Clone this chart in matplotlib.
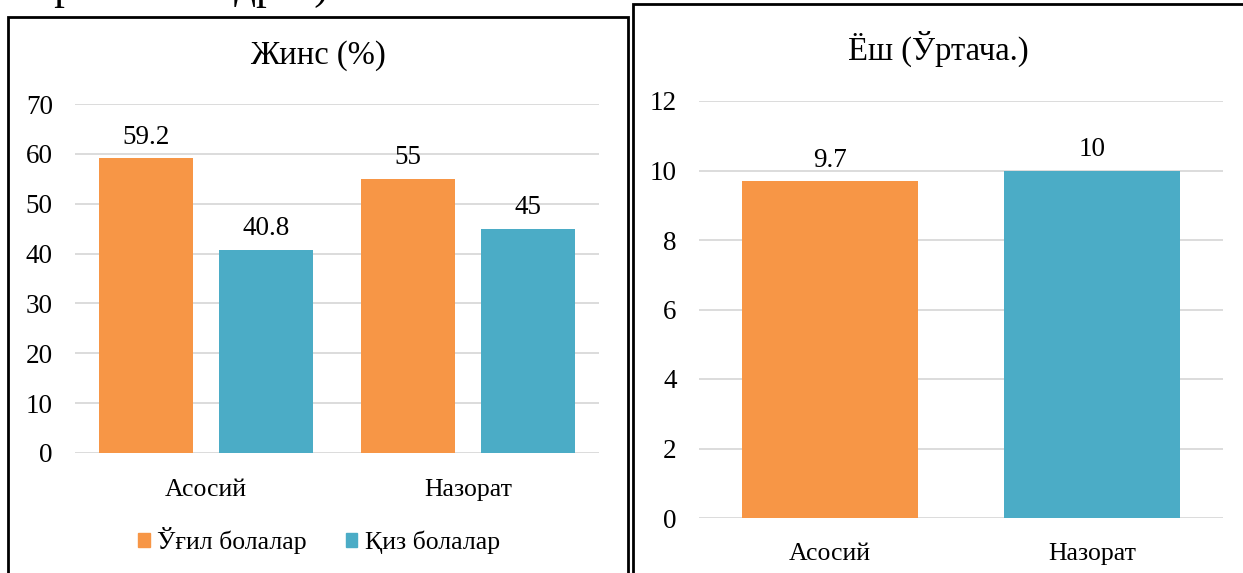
import matplotlib
matplotlib.use("Agg")
import matplotlib.pyplot as plt
import numpy as np
from matplotlib.patches import Rectangle, Patch

plt.rcParams["font.family"] = ["Liberation Serif", "DejaVu Serif"]

# data
groups = ["Асосий", "Назорат"]
boys_pct = [59.2, 55]
girls_pct = [40.8, 45]
series_names = ["Ўғил болалар", "Қиз болалар"]
age_mean = [9.7, 10]

ORANGE = "#F79646"
BLUE = "#4BACC6"
GRID = "#D9D9D9"
FS_NUM = 19.5
FS_CAT = 18.5
FS_TITLE = 23.5

W, H = 1243, 573
fig = plt.figure(figsize=(W / 100, H / 100), dpi=100)


def fx(px):
    return px / W


def fy(py):
    return 1 - py / H


def style_axes(ax, xpad):
    for s in ax.spines.values():
        s.set_visible(False)
    ax.yaxis.grid(True, color=GRID, linewidth=1.3)
    ax.set_axisbelow(True)
    ax.tick_params(axis="both", length=0)
    ax.tick_params(axis="y", pad=16, labelsize=FS_NUM)
    ax.tick_params(axis="x", pad=xpad, labelsize=FS_CAT)


# panel frames
fig.patches.append(Rectangle((fx(8), fy(590)), fx(620), (590 - 17) / H,
                             transform=fig.transFigure, fill=False, ec="black", lw=2))
fig.patches.append(Rectangle((fx(633), fy(590)), fx(620), (590 - 4) / H,
                             transform=fig.transFigure, fill=False, ec="black", lw=2))

# document text above the charts, cut by the top edge
fig.text(fx(-2), fy(-1), "широкий квадрат).", fontsize=31, va="baseline", ha="left")

# left chart: gender
ax1 = fig.add_axes([fx(75), fy(453), fx(524), (453 - 104) / H])
x = np.arange(len(groups))
bw = 0.355
off = 0.229
b1 = ax1.bar(x - off, boys_pct, bw, color=ORANGE, label=series_names[0])
b2 = ax1.bar(x + off, girls_pct, bw, color=BLUE, label=series_names[1])
for bars in (b1, b2):
    for r in bars:
        v = r.get_height()
        ax1.annotate(f"{v:g}", (r.get_x() + r.get_width() / 2, v),
                     xytext=(0, 6), textcoords="offset points",
                     ha="center", va="bottom", fontsize=FS_NUM)
ax1.set_xlim(-0.5, 1.5)
ax1.set_ylim(0, 70)
ax1.set_yticks(range(0, 71, 10))
ax1.set_xticks(x)
ax1.set_xticklabels(groups)
style_axes(ax1, 19)
fig.text(fx(318), fy(56), "Жинс (%)", fontsize=FS_TITLE, ha="center", va="center")
handles = [Patch(color=ORANGE), Patch(color=BLUE)]
fig.legend(handles, series_names, loc="center", bbox_to_anchor=(fx(319), fy(541)),
           ncol=2, frameon=False, fontsize=18.5, handlelength=0.45, handleheight=0.45,
           handletextpad=0.3, columnspacing=1.5)

# right chart: age
ax2 = fig.add_axes([fx(699), fy(518), fx(524), (518 - 101) / H])
bars = ax2.bar(x, age_mean, 0.668, color=[ORANGE, BLUE])
for r in bars:
    v = r.get_height()
    ax2.annotate(f"{v:g}", (r.get_x() + r.get_width() / 2, v),
                 xytext=(0, 6), textcoords="offset points",
                 ha="center", va="bottom", fontsize=FS_NUM)
ax2.set_xlim(-0.5, 1.5)
ax2.set_ylim(0, 12)
ax2.set_yticks(range(0, 13, 2))
ax2.set_xticks(x)
ax2.set_xticklabels(groups)
style_axes(ax2, 18)
fig.text(fx(938), fy(49), "Ёш (Ўртача.)", fontsize=FS_TITLE, ha="center", va="center")

fig.savefig("out.png", dpi=100)
